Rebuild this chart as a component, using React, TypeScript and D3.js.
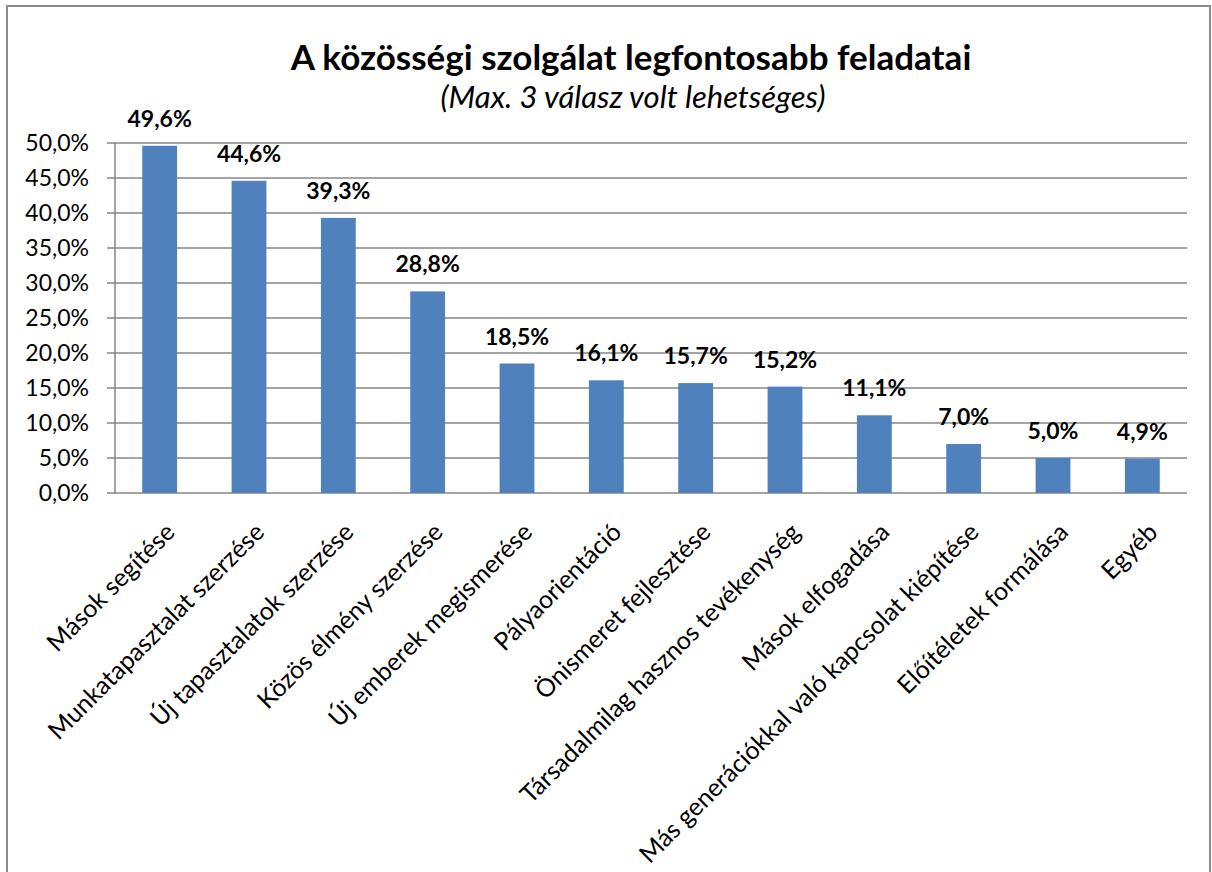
import * as d3 from "d3";
import React from "react";

const categories = [
  "Mások segítése",
  "Munkatapasztalat szerzése",
  "Új tapasztalatok szerzése",
  "Közös élmény szerzése",
  "Új emberek megismerése",
  "Pályaorientáció",
  "Önismeret fejlesztése",
  "Társadalmilag hasznos tevékenység",
  "Mások elfogadása",
  "Más generációkkal való kapcsolat kiépítése",
  "Előítéletek formálása",
  "Egyéb",
];
const values = [49.6, 44.6, 39.3, 28.8, 18.5, 16.1, 15.7, 15.2, 11.1, 7.0, 5.0, 4.9];
const yTicks = [0, 5, 10, 15, 20, 25, 30, 35, 40, 45, 50];

const title = "A közösségi szolgálat legfontosabb feladatai";
const subtitle = "(Max. 3 válasz volt lehetséges)";

const W = 1212;
const H = 872;
const left = 115;
const right = 1187;
const top = 143;
const bottom = 493;
const font = "Lato, 'Open Sans', sans-serif";

const fmt = (v: number) => v.toFixed(1).replace(".", ",") + "%";

export default function App() {
  const x = d3.scaleBand<string>().domain(categories).range([left, right]).paddingInner(0.61).paddingOuter(0.305);
  const y = d3.scaleLinear().domain([0, 50]).range([bottom, top]);

  return (
    <svg width={W} height={H} style={{ position: "absolute", left: 0, top: 0, background: "#fff" }}>
      <rect x={7} y={6} width={W - 9} height={H + 10} fill="#fff" stroke="#8c8c8c" strokeWidth={2} />
      <text x={631} y={70} textAnchor="middle" fontFamily={font} fontWeight="bold" fontSize={35}>
        {title}
      </text>
      <text x={633} y={108} textAnchor="middle" fontFamily={font} fontStyle="italic" fontSize={31}>
        {subtitle}
      </text>

      {yTicks.map((t) => (
        <g key={t}>
          <line x1={left - 8} x2={right} y1={y(t)} y2={y(t)} stroke="#868686" strokeWidth={1.5} />
          <text x={89} y={y(t)} dy="0.35em" textAnchor="end" fontFamily={font} fontSize={23}>
            {fmt(t)}
          </text>
        </g>
      ))}
      <line x1={left} x2={left} y1={top} y2={bottom} stroke="#868686" strokeWidth={1.5} />

      {categories.map((c, i) => (
        <g key={c}>
          <rect x={x(c)!} y={y(values[i])} width={x.bandwidth()} height={bottom - y(values[i])} fill="#4F81BD" />
          <text
            x={x(c)! + x.bandwidth() / 2}
            y={y(values[i]) - 19}
            textAnchor="middle"
            fontFamily={font}
            fontWeight="bold"
            fontSize={23}
          >
            {fmt(values[i])}
          </text>
          <text
            transform={`translate(${x(c)! + x.bandwidth() / 2 + 4},${521}) rotate(-45)`}
            dy="0.72em"
            textAnchor="end"
            fontFamily={font}
            fontSize={25}
          >
            {c}
          </text>
        </g>
      ))}
    </svg>
  );
}
